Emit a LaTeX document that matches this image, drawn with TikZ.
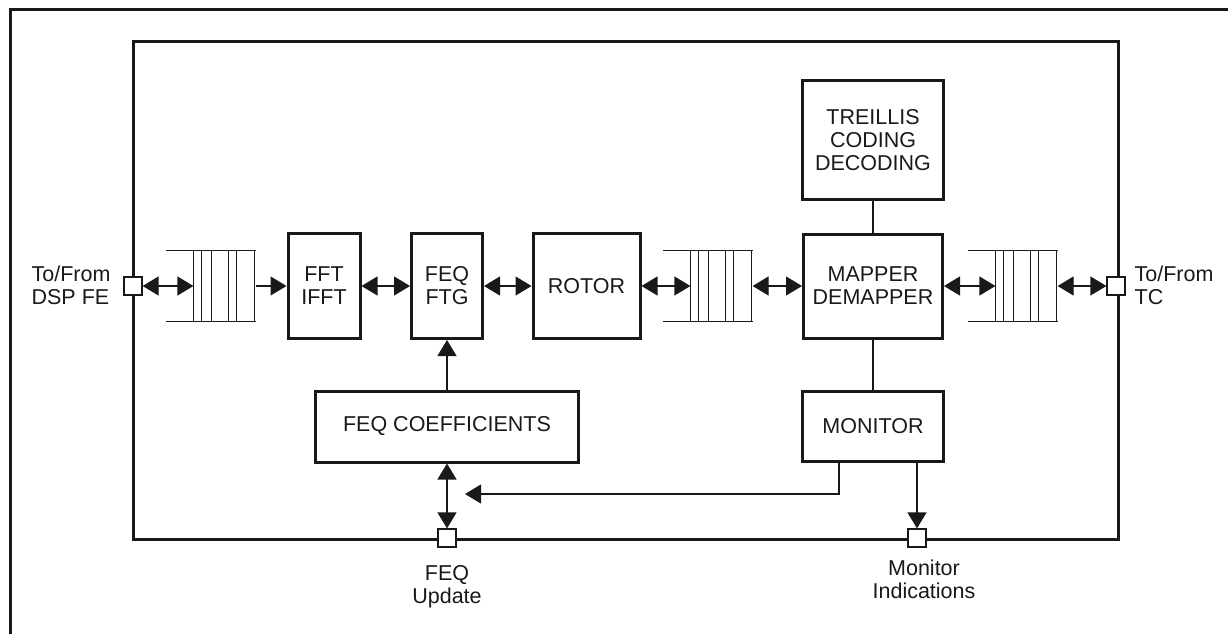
\documentclass[tikz,border=0pt]{standalone}
\usepackage{fontspec}
\setmainfont{Liberation Sans}
\usetikzlibrary{arrows.meta,positioning}

\begin{document}
\begin{tikzpicture}[x=1pt,y=-1pt
	,>={Triangle[length=16pt,width=19pt]}
	,line width=1.2pt
	,color=black!90
	,font=\fontsize{21.5}{23}\selectfont
	]
  \tikzset{block/.style={draw,line width=3pt,align=center,inner sep=0pt}
  ,port/.style={draw,fill=white,line width=1.2pt,minimum size=18pt,inner sep=0pt}
  ,fifo/.style={minimum width=88pt,minimum height=70pt,inner sep=0pt}
  ,caption/.style={align=center,inner sep=0pt}
  }
  \useasboundingbox (0,0) rectangle (1228,634);

  % outer frame and chip
  \draw[line width=3pt] (10,650) -- (10,10) -- (1240,10);
  \node[draw,line width=3pt,minimum width=985pt,minimum height=497pt
  ,inner sep=0pt] (chip) at (625.5,290.5) {};

  % main row
  \node[fifo] (q1) at (211,286) {};
  \node[block,minimum width=72pt,minimum height=105pt] (fft) at (324,286)
  {FFT\\IFFT};
  \node[block,minimum width=71pt,minimum height=105pt] (feq) at (447,286)
  {FEQ\\FTG};
  \node[block,minimum width=107pt,minimum height=105pt] (rot) at (586.5,286)
  {ROTOR};
  \node[fifo] (q2) at (708,286) {};
  \node[block,minimum width=139pt,minimum height=104pt] (map) at (873,286)
  {MAPPER\\DEMAPPER};
  \node[fifo] (q3) at (1013,286) {};

  % top and bottom blocks
  \node[block,minimum width=141pt,minimum height=119pt] (trl) at (873,140)
  {TREILLIS\\CODING\\DECODING};
  \node[block,minimum width=141pt,minimum height=70pt] (mon) at (873,426)
  {MONITOR};
  \node[block,minimum width=263pt,minimum height=71pt] (coef) at (447,426.5)
  {FEQ COEFFICIENTS};

  % fifo cells
  \foreach \q in {q1,q2,q3}{
    \draw (\q.north west) -- (\q.north east)
          (\q.south west) -- (\q.south east);
    \foreach \dx in {27,35,45,62,70,88}
      \draw ([xshift=\dx pt]\q.north west) -- ([xshift=\dx pt]\q.south west);
    \coordinate (\q in) at ([xshift=27pt]\q.west);
  }

  % ports
  \node[port] (pl) at (133,286) {};
  \node[port] (pr) at (1116,286) {};
  \node[port] (pf) at (447,538) {};
  \node[port] (pm) at (917,538) {};

  \node[caption,anchor=west,align=left] (tl) at (31,285) {To/From\\DSP FE};
  \node[caption,anchor=west,align=left] (tr) at (1134,285) {To/From\\TC};
  \node[caption,anchor=north] (tf) at (447,565) {FEQ\\Update};
  \node[caption,anchor=north] (tm) at (924,559) {Monitor\\Indications};

  % horizontals
  \path[<->] (pl) edge (q1in);
  \path[->] (q1) edge (fft);
  \path[<->] (fft) edge (feq);
  \path[<->] (feq) edge (rot);
  \path[<->] (rot) edge (q2in);
  \path[<->] (q2) edge (map);
  \path[<->] (map) edge (q3in);
  \path[<->] (q3) edge (pr);

  % verticals
  \path (trl) edge (map);
  \path (map) edge (mon);
  \path[->] (coef) edge (feq);
  \path[<->] (coef) edge (pf);
  \coordinate (fbk) at (465,494);
  \draw[->] ([xshift=-34pt]mon.south) |- (fbk);
  \draw[->] ([xshift=44pt]mon.south) -- (pm);

\end{tikzpicture}
\end{document}
